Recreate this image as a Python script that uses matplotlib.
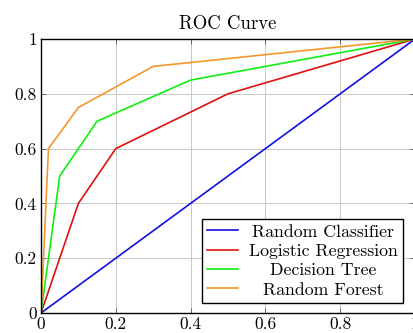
import matplotlib
matplotlib.use("Agg")
import matplotlib.pyplot as plt

plt.rcParams['font.family'] = ['cmr10', 'DejaVu Serif']
plt.rcParams['axes.formatter.use_mathtext'] = True
plt.rcParams['mathtext.fontset'] = 'cm'

labels = ["Random Classifier", "Logistic Regression", "Decision Tree", "Random Forest"]
colors = ["#1010e0", "#e01010", "#10f010", "#f5962a"]
fpr_random = [0, 1]
tpr_random = [0, 1]
fpr_logistic = [0, 0.1, 0.2, 0.5, 1]
tpr_logistic = [0, 0.4, 0.6, 0.8, 1]
fpr_tree = [0, 0.05, 0.15, 0.4, 1]
tpr_tree = [0, 0.5, 0.7, 0.85, 1]
fpr_forest = [0, 0.02, 0.1, 0.3, 1]
tpr_forest = [0, 0.6, 0.75, 0.9, 1]
ticks = [0, 0.2, 0.4, 0.6, 0.8, 1]
tick_labels = ["0", "0.2", "0.4", "0.6", "0.8", "1"]

fig = plt.figure(figsize=(4.13, 3.33), dpi=100)
ax = fig.add_axes([41/413, 20/333, 374/413, 274/333])

series = [(fpr_random, tpr_random), (fpr_logistic, tpr_logistic),
          (fpr_tree, tpr_tree), (fpr_forest, tpr_forest)]
for (x, y), lab, c in zip(series, labels, colors):
    ax.plot(x, y, color=c, lw=1.2, label=lab, solid_joinstyle='miter')

ax.set_xlim(0, 1)
ax.set_ylim(0, 1)
ax.set_xticks(ticks)
ax.set_xticklabels(tick_labels)
ax.set_yticks(ticks)
ax.set_yticklabels(tick_labels)
ax.tick_params(direction='in', length=3.5, width=0.6, top=True, right=True,
               labelsize=12.5, pad=3, color='#555555')
ax.grid(True, color='#c8c8c8', lw=0.7)
for s in ax.spines.values():
    s.set_linewidth(1.0)
    s.set_color('black')
ax.set_title("ROC Curve", fontsize=13.5, pad=7)

leg = ax.legend(loc='lower right', bbox_to_anchor=(403/413, 30/333),
                bbox_transform=fig.transFigure, fancybox=False, framealpha=1,
                edgecolor='black', fontsize=12.8, handlelength=1.75,
                labelspacing=0.22, borderpad=0.3, handletextpad=0.6,
                borderaxespad=0)
leg.get_frame().set_linewidth(1.0)

fig.canvas.draw()
r = fig.canvas.get_renderer()
texts = leg.get_texts()
widths = [t.get_window_extent(r).width for t in texts]
W = max(widths)
for t, w in zip(texts, widths):
    t.set_x((W - w) / 2)

fig.savefig("out.png", dpi=100)
